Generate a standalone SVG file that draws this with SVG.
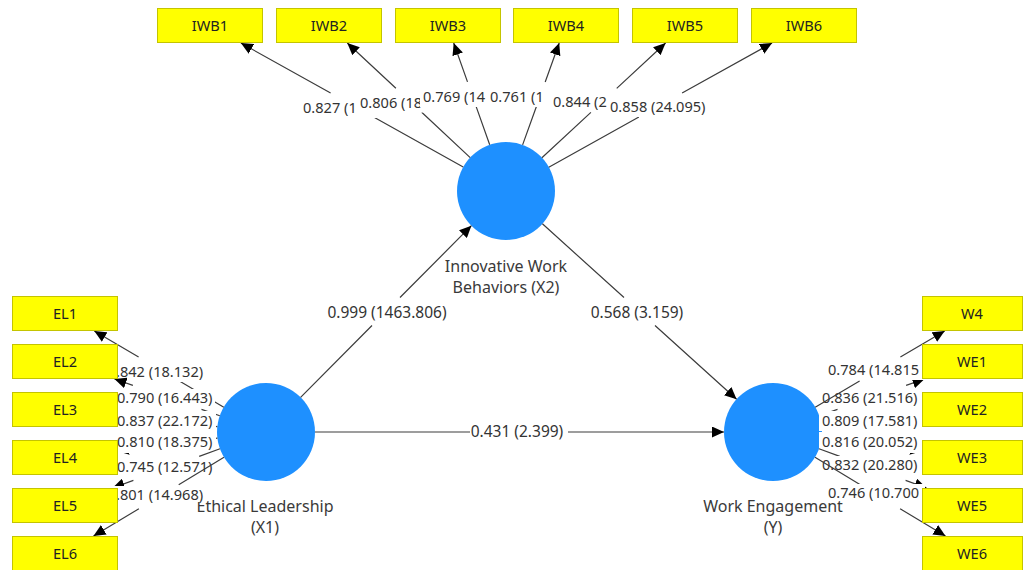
<svg xmlns="http://www.w3.org/2000/svg" width="1024" height="570" viewBox="0 0 1024 570">
<style>
text{font-family:"Noto Sans","Liberation Sans",sans-serif}
.box{fill:#ffff00;stroke:#c4c400;stroke-width:1}
.bt{font-size:14.6px;fill:#222;text-anchor:middle}
.lv{fill:#1e90ff}
.lvt{font-size:16px;fill:#3a3a3a;text-anchor:middle}
.ln{stroke:#3c3c3c;stroke-width:1.2;fill:none;marker-end:url(#ah)}
.lb rect{fill:#ffffff}
.lb text{font-size:14.6px;fill:#333}
.sl text{font-size:15.5px;fill:#333;text-anchor:middle}
</style>
<defs>
<marker id="ah" markerUnits="userSpaceOnUse" viewBox="0 0 12 11" markerWidth="12" markerHeight="11" refX="12" refY="5.5" orient="auto">
<path d="M0,0 L12,5.5 L0,11 z" fill="#000"/>
</marker>
</defs>
<rect x="0" y="0" width="1024" height="570" fill="#ffffff"/>

<g id="lv-IWB">
<circle class="lv" cx="506" cy="191" r="49"/>
<text class="lvt" x="506" y="272">Innovative Work</text>
<text class="lvt" x="506" y="293">Behaviors (X2)</text>
</g>
<g id="lv-EL">
<circle class="lv" cx="266" cy="432" r="49"/>
<text class="lvt" x="265" y="512">Ethical Leadership</text>
<text class="lvt" x="265" y="533">(X1)</text>
</g>
<g id="lv-WE">
<circle class="lv" cx="773" cy="432" r="49"/>
<text class="lvt" x="773" y="512">Work Engagement</text>
<text class="lvt" x="773" y="533">(Y)</text>
</g>

<g id="connectors">
<g id="c-EL-IWB" class="sl">
<path class="ln" d="M300.6,397.3 L372,325.5 M400,297.5 L471.4,225.7"/>
<text x="387" y="318">0.999 (1463.806)</text>
</g>
<g id="c-IWB-WE" class="sl">
<path class="ln" d="M542.4,223.8 L624,297.5 M655,325.5 L736.6,399.2"/>
<text x="637" y="318">0.568 (3.159)</text>
</g>
<g id="c-EL-WE" class="sl">
<path class="ln" d="M315,432 L470,432 M568,432 L724,432"/>
<text x="517" y="437">0.431 (2.399)</text>
</g>

<g id="c-IWB1" class="lb">
<path class="ln" d="M463.2,167.1 L373.6,117.1 M330.6,93.1 L240.9,43"/>
<rect x="300" y="99" width="100" height="19"/><text x="303" y="113">0.827 (1</text>
</g>
<g id="c-IWB2" class="lb">
<path class="ln" d="M470.2,157.6 L421.7,112.3 M395.9,88.3 L347.3,43"/>
<rect x="357" y="93.5" width="100" height="19"/><text x="360" y="107.5">0.806 (18</text>
</g>
<g id="c-IWB3" class="lb">
<path class="ln" d="M489.7,144.8 L475.9,105.9 M467.5,81.9 L453.7,43"/>
<rect x="420" y="88" width="100" height="19"/><text x="423" y="102">0.769 (14</text>
</g>
<g id="c-IWB4" class="lb">
<path class="ln" d="M522.6,144.9 L536.6,106 M545.2,82 L559.2,43"/>
<rect x="487" y="88" width="100" height="19"/><text x="490" y="102">0.761 (1</text>
</g>
<g id="c-IWB5" class="lb">
<path class="ln" d="M541.9,157.7 L590.9,112.4 M616.7,88.4 L665.6,43"/>
<rect x="550" y="93" width="100" height="19"/><text x="553" y="107">0.844 (2</text>
</g>
<g id="c-IWB6" class="lb">
<path class="ln" d="M548.8,167.2 L638.9,117.1 M682.1,93.1 L772.1,43"/>
<rect x="607" y="98" width="100" height="19"/><text x="610" y="112">0.858 (24.095)</text>
</g>

<g id="c-EL1" class="lb">
<path class="ln" d="M223.8,407.2 L179.4,381.1 M138.6,357.1 L94.3,331"/>
<rect x="111" y="363" width="100" height="19"/><text x="116" y="377">.842 (18.132)</text>
</g>
<g id="c-EL2" class="lb">
<path class="ln" d="M219.8,415.8 L201.5,409.4 M132.9,385.4 L114.5,379"/>
<rect x="114" y="389" width="101" height="19"/><text x="117" y="403">0.790 (16.443)</text>
</g>
<g id="c-EL3" class="lb">
<path class="ln" d="M217.3,426.6 L117,415.4"/>
<rect x="114" y="411" width="102" height="20"/><text x="117" y="426">0.837 (22.172)</text>
</g>
<g id="c-EL4" class="lb">
<path class="ln" d="M217.4,438.2 L117,450.9"/>
<rect x="114" y="432" width="102" height="21"/><text x="117" y="447">0.810 (18.375)</text>
</g>
<g id="c-EL5" class="lb">
<path class="ln" d="M220,448.8 L199.2,456.4 M133.4,480.4 L112.5,488"/>
<rect x="114" y="458" width="101" height="19"/><text x="117" y="472">0.745 (12.571)</text>
</g>
<g id="c-EL6" class="lb">
<path class="ln" d="M224,457.3 L178.7,484.7 M138.9,508.7 L93.5,536"/>
<rect x="111" y="486" width="94" height="16"/><text x="116" y="500">.801 (14.968)</text>
</g>

<g id="c-WE1" class="lb">
<path class="ln" d="M819.2,415.8 L837.5,409.4 M906.1,385.4 L924.5,379"/>
<rect x="819" y="389" width="101" height="19"/><text x="822" y="403">0.836 (21.516)</text>
</g>
<g id="c-WE2" class="lb">
<path class="ln" d="M821.7,426.6 L922,415.4"/>
<rect x="819" y="411" width="103" height="20"/><text x="822" y="426">0.809 (17.581)</text>
</g>
<g id="c-WE3" class="lb">
<path class="ln" d="M821.6,438.2 L922,450.9"/>
<rect x="819" y="432" width="103" height="21"/><text x="822" y="447">0.816 (20.052)</text>
</g>
<g id="c-W4" class="lb">
<path class="ln" d="M815.2,407.2 L859.6,381.1 M900.4,357.1 L944.7,331"/>
<rect x="825" y="361" width="100" height="19"/><text x="828" y="375">0.784 (14.815</text>
</g>
<g id="c-WE5" class="lb">
<path class="ln" d="M819,448.8 L839.8,456.4 M905.6,480.4 L926.5,488"/>
<rect x="819" y="456" width="101" height="19"/><text x="822" y="470">0.832 (20.280)</text>
</g>
<g id="c-WE6" class="lb">
<path class="ln" d="M815,457.3 L860.3,484.7 M900.1,508.7 L945.5,536"/>
<rect x="825" y="484" width="100" height="17"/><text x="828" y="498">0.746 (10.700</text>
</g>
</g>

<g id="IWB1"><rect class="box" x="157.5" y="8.5" width="105" height="34"/><text class="bt" x="210" y="31">IWB1</text></g>
<g id="IWB2"><rect class="box" x="276.5" y="8.5" width="105" height="34"/><text class="bt" x="329" y="31">IWB2</text></g>
<g id="IWB3"><rect class="box" x="395.5" y="8.5" width="105" height="34"/><text class="bt" x="448" y="31">IWB3</text></g>
<g id="IWB4"><rect class="box" x="513.5" y="8.5" width="105" height="34"/><text class="bt" x="566" y="31">IWB4</text></g>
<g id="IWB5"><rect class="box" x="632.5" y="8.5" width="105" height="34"/><text class="bt" x="685" y="31">IWB5</text></g>
<g id="IWB6"><rect class="box" x="751.5" y="8.5" width="105" height="34"/><text class="bt" x="804" y="31">IWB6</text></g>

<g id="EL1"><rect class="box" x="12.5" y="296.5" width="105" height="34"/><text class="bt" x="65" y="319">EL1</text></g>
<g id="EL2"><rect class="box" x="12.5" y="344.5" width="105" height="34"/><text class="bt" x="65" y="367">EL2</text></g>
<g id="EL3"><rect class="box" x="12.5" y="392.5" width="105" height="34"/><text class="bt" x="65" y="415">EL3</text></g>
<g id="EL4"><rect class="box" x="12.5" y="440.5" width="105" height="34"/><text class="bt" x="65" y="463">EL4</text></g>
<g id="EL5"><rect class="box" x="12.5" y="488.5" width="105" height="34"/><text class="bt" x="65" y="511">EL5</text></g>
<g id="EL6"><rect class="box" x="12.5" y="536.5" width="105" height="34"/><text class="bt" x="65" y="559">EL6</text></g>

<g id="W4"><rect class="box" x="922.5" y="296.5" width="100" height="34"/><text class="bt" x="972" y="319">W4</text></g>
<g id="WE1"><rect class="box" x="922.5" y="344.5" width="100" height="34"/><text class="bt" x="972" y="367">WE1</text></g>
<g id="WE2"><rect class="box" x="922.5" y="392.5" width="100" height="34"/><text class="bt" x="972" y="415">WE2</text></g>
<g id="WE3"><rect class="box" x="922.5" y="440.5" width="100" height="34"/><text class="bt" x="972" y="463">WE3</text></g>
<g id="WE5"><rect class="box" x="922.5" y="488.5" width="100" height="34"/><text class="bt" x="972" y="511">WE5</text></g>
<g id="WE6"><rect class="box" x="922.5" y="536.5" width="100" height="34"/><text class="bt" x="972" y="559">WE6</text></g>
</svg>
